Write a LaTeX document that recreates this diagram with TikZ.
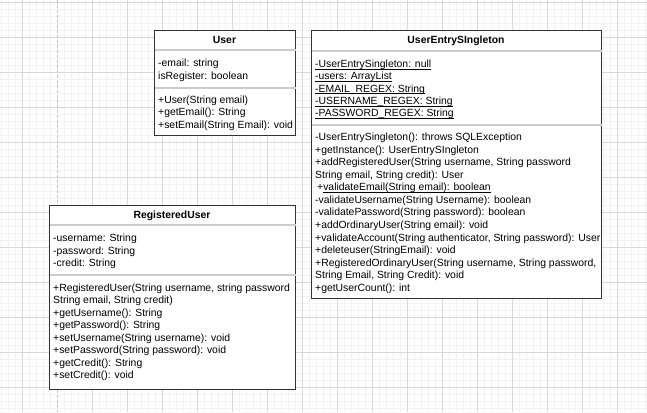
\documentclass[tikz,border=0pt]{standalone}
\usepackage{fontspec}
\setmainfont{Liberation Sans}
\definecolor{boxc}{HTML}{333333}
\definecolor{sepc}{HTML}{CCCCCC}
\definecolor{txtc}{HTML}{000000}
\definecolor{minorc}{HTML}{F3F3F3}
\definecolor{majorc}{HTML}{D9D9D9}
\definecolor{pagec}{HTML}{C4C4C4}
\newcommand\myul[1]{\setbox0\hbox{#1}\rlap{\vrule height -1.3pt depth 2.0pt width \wd0}\box0}
\begin{document}
\begin{tikzpicture}[x=1pt,y=-1pt,
  box/.style={draw=boxc, line width=1.1pt, fill=white, inner sep=0pt, anchor=north west},
  sep/.style={draw=sepc, line width=1.4pt},
  txt/.style={anchor=base west, inner sep=0pt, font=\fontsize{10.4}{12.5}\selectfont, text=txtc},
  ttl/.style={anchor=base, inner sep=0pt, font=\bfseries\fontsize{10.4}{12.5}\selectfont, text=txtc},
  minorl/.style={draw=minorc, line width=0.5pt},
  majorl/.style={draw=majorc, line width=0.6pt},
  pagel/.style={draw=pagec, line width=1pt, dash pattern=on 3pt off 2pt}]
\useasboundingbox[fill=white] (0,0) rectangle (647,412);
% grid
\foreach \x in {1,8,...,645} \draw[minorl] (\x,0) -- (\x,412);
\foreach \y in {2,9,...,410} \draw[minorl] (0,\y) -- (647,\y);
\foreach \x in {22,92,127,...,617} \draw[majorl] (\x,0) -- (\x,412);
\foreach \y in {2,37,...,387} \draw[majorl] (0,\y) -- (647,\y);
\draw[pagel] (57,0) -- (57,412);
% User
\node[box, minimum width=141pt, minimum height=105pt] (user) at (154,30) {};
\draw[sep] ([xshift=0.6pt]user.west |- 0,50) -- ([xshift=-0.6pt]user.east |- 0,50);
\draw[sep] ([xshift=0.6pt]user.west |- 0,88) -- ([xshift=-0.6pt]user.east |- 0,88);
\node[ttl] (userT) at (224.5,43.5) {User};
\foreach \t [count=\i] in {-email: string, isRegister: boolean}
  \node[txt] (userA\i) at (158,66.5+12.5*\i-12.5) {\t};
\foreach \t [count=\i] in {+User(String email), +getEmail(): String, +setEmail(String Email): void}
  \node[txt] (userM\i) at (158,103+12.5*\i-12.5) {\t};
% UserEntrySingleton
\node[box, minimum width=290pt, minimum height=268pt] (ues) at (311,30) {};
\draw[sep] ([xshift=0.6pt]ues.west |- 0,51) -- ([xshift=-0.6pt]ues.east |- 0,51);
\draw[sep] ([xshift=0.6pt]ues.west |- 0,125) -- ([xshift=-0.6pt]ues.east |- 0,125);
\node[ttl] (uesT) at (456,43.5) {UserEntrySIngleton};
\foreach \t [count=\i] in {\myul{-UserEntrySingleton: null}, \myul{-users: ArrayList}, \myul{-EMAIL\_REGEX: String}, \myul{-USERNAME\_REGEX: String}, \myul{-PASSWORD\_REGEX: String}}
  \node[txt] (uesA\i) at (315,67.5+12.3*\i-12.3) {\t};
\foreach \t [count=\i] in {-UserEntrySingleton(): throws SQLException, +getInstance(): UserEntrySIngleton, {+addRegisteredUser(String username, String password}, {String email, String credit): User}, \hspace{2pt}+\myul{validateEmail(String email): boolean}, -validateUsername(String Username): boolean, -validatePassword(String password): boolean, +addOrdinaryUser(String email): void, {+validateAccount(String authenticator, String password): User}, +deleteuser(StringEmail): void, {+RegisteredOrdinaryUser(String username, String password,}, {String Email, String Credit): void}, +getUserCount(): int}
  \node[txt] (uesM\i) at (315,140.5+12.58*\i-12.58) {\t};
% RegisteredUser
\node[box, minimum width=246pt, minimum height=184pt] (ru) at (49,205) {};
\draw[sep] ([xshift=0.6pt]ru.west |- 0,225) -- ([xshift=-0.6pt]ru.east |- 0,225);
\draw[sep] ([xshift=0.6pt]ru.west |- 0,275) -- ([xshift=-0.6pt]ru.east |- 0,275);
\node[ttl] (ruT) at (172,218.5) {RegisteredUser};
\foreach \t [count=\i] in {-username: String, -password: String, -credit: String}
  \node[txt] (ruA\i) at (53,241.5+12.5*\i-12.5) {\t};
\foreach \t [count=\i] in {{+RegisteredUser(String username, string password}, {String email, String credit)}, +getUsername(): String, +getPassword(): String, +setUsername(String username): void, +setPassword(String password): void, +getCredit(): String, +setCredit(): void}
  \node[txt] (ruM\i) at (53,291.5+12.43*\i-12.43) {\t};
\end{tikzpicture}
\end{document}
